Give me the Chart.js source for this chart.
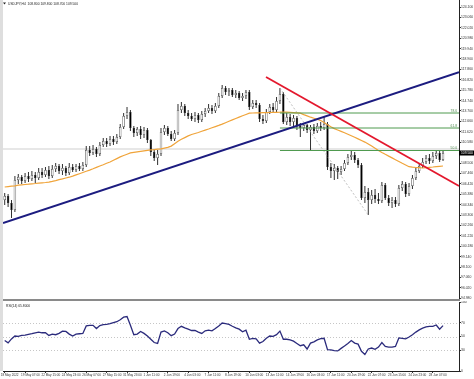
<!DOCTYPE html>
<html>
<head>
<meta charset="utf-8">
<script src="https://cdn.jsdelivr.net/npm/chart.js@4.4.1/dist/chart.umd.min.js"></script>
<style>
  html, body { margin: 0; padding: 0; background: #fff; }
  #wrap { position: relative; width: 474px; height: 379px; overflow: hidden; background: #fff; }
  canvas { position: absolute; left: 0; }
  #main { top: 0; }
  #rsi { top: 301px; }
  #sep { position: absolute; left: 0; top: 299px; width: 460px; height: 2px; background: #8a8a8a; }
  #edge { position: absolute; left: 0; top: 0; width: 3px; height: 371px; background: #dedede; }
</style>
</head>
<body>
<div id="wrap">
  <canvas id="main" width="474" height="299" style="width:474px;height:299px"></canvas>
  <div id="sep"></div>
  <canvas id="rsi" width="474" height="78" style="width:474px;height:78px"></canvas>
  <div id="edge"></div>
</div>
<script>
// chart data (H4 candles)
const symbol = 'USDJPY,H4';

const dateLabels = ['18 May 2022', '19 May 07:00', '22 May 15:00', '24 May 23:00', '26 May 07:00', '27 May 15:00',
  '31 May 23:00', '1 Jun 11:00', '2 Jun 19:00', '4 Jun 03:00', '7 Jun 11:00', '8 Jun 19:00', '10 Jun 03:00',
  '13 Jun 11:00', '14 Jun 19:00', '16 Jun 03:00', '17 Jun 11:00', '20 Jun 19:00', '22 Jun 07:00',
  '23 Jun 15:00', '24 Jun 23:00', '28 Jun 07:00'];
const barsPerLabel = 6;

const openPrices = [
  104.8, 105.2, 104.5, 103.8, 106.8, 107.1, 106.7, 107.2, 106.9, 107.3,
  107.0, 107.6, 107.3, 107.8, 107.2, 107.9, 108.2, 107.7, 108.0, 107.5,
  108.1, 107.8, 108.2, 107.9, 108.3, 109.8, 109.5, 109.9, 109.4, 110.3,
  110.7, 110.4, 110.9, 110.6, 111.1, 112.1, 113.2, 113.6, 112.0, 111.5,
  111.9, 111.3, 111.8, 110.8, 109.6, 109.0, 109.4, 111.6, 112.0, 111.4,
  110.9, 111.5, 113.8, 114.2, 113.5, 113.2, 112.9, 113.3, 112.8, 113.4,
  113.7, 114.0, 113.7, 114.2, 115.2, 116.0, 115.6, 115.8, 115.3, 115.5,
  115.0, 115.2, 115.6, 114.1, 114.5, 114.3, 112.9, 112.7, 113.6, 114.1,
  113.8, 114.7, 115.4, 112.6, 113.1, 112.6, 113.0, 112.2, 112.0, 112.3,
  111.8, 112.1, 111.7, 112.2, 112.0, 112.4, 108.1, 107.7, 108.0, 107.6,
  107.9, 108.5, 109.1, 109.3, 108.8, 108.3, 105.0, 105.6, 104.8, 105.3,
  104.9, 104.7, 106.3, 105.0, 104.5, 104.8, 104.4, 106.0, 106.4, 105.4,
  106.2, 107.0, 107.7, 108.2, 108.6, 109.0, 108.7, 109.2, 109.5, 108.8
];
const highPrices = [
  105.5, 105.4, 104.8, 107.2, 107.4, 107.3, 107.5, 107.6, 107.7, 107.6,
  108.0, 108.0, 108.1, 108.2, 108.3, 108.5, 108.4, 108.4, 108.2, 108.5,
  108.4, 108.4, 108.5, 108.6, 110.2, 110.2, 110.3, 110.1, 110.6, 111.0,
  111.0, 111.2, 111.2, 111.4, 112.4, 113.5, 114.1, 113.8, 112.2, 112.1,
  112.2, 112.1, 112.0, 110.9, 109.9, 109.8, 112.0, 112.3, 112.2, 111.7,
  111.8, 114.4, 114.6, 114.4, 113.8, 113.5, 113.6, 113.5, 113.7, 114.0,
  114.4, 114.3, 114.5, 115.5, 116.3, 116.2, 116.0, 116.0, 115.8, 115.7,
  115.5, 115.8, 115.8, 114.8, 114.8, 114.5, 113.3, 113.9, 114.4, 114.5,
  115.1, 116.0, 115.6, 113.5, 113.4, 113.3, 113.2, 112.5, 112.5, 112.4,
  112.3, 112.4, 112.5, 112.6, 113.1, 112.6, 108.5, 108.4, 108.2, 108.2,
  108.8, 109.4, 109.7, 109.6, 109.0, 108.5, 106.2, 106.0, 105.8, 105.9,
  105.5, 106.6, 106.5, 105.3, 105.1, 105.1, 106.3, 106.7, 106.6, 106.5,
  107.3, 108.1, 108.5, 109.0, 109.3, 109.4, 109.6, 109.8, 109.7, 109.8
];
const lowPrices = [
  104.3, 104.1, 103.0, 103.6, 106.4, 106.4, 106.5, 106.6, 106.7, 106.5,
  106.8, 107.0, 107.1, 106.9, 107.0, 107.6, 107.4, 107.3, 107.2, 107.3,
  107.6, 107.6, 107.7, 107.7, 108.1, 109.2, 109.3, 109.1, 109.2, 110.1,
  110.1, 110.2, 110.3, 110.4, 110.9, 111.9, 112.9, 111.7, 111.1, 111.2,
  110.9, 111.0, 110.5, 109.2, 108.7, 108.3, 109.2, 111.3, 111.2, 110.7,
  110.7, 111.3, 113.5, 113.2, 112.9, 112.7, 112.6, 112.5, 112.6, 113.1,
  113.5, 113.4, 113.5, 114.0, 115.0, 115.3, 115.2, 115.1, 115.0, 114.8,
  114.7, 114.9, 113.8, 113.9, 114.0, 112.6, 112.4, 112.5, 113.4, 113.5,
  113.6, 114.4, 112.4, 112.3, 112.2, 112.1, 111.8, 111.1, 111.7, 111.5,
  109.8, 111.4, 111.5, 111.7, 111.8, 107.8, 107.0, 106.8, 106.9, 107.3,
  107.7, 108.3, 108.8, 108.5, 108.0, 104.8, 104.5, 103.3, 104.4, 104.5,
  104.4, 104.5, 104.8, 104.2, 104.0, 104.1, 104.2, 105.7, 105.1, 105.2,
  105.9, 106.8, 107.5, 108.0, 108.4, 108.4, 108.5, 108.9, 108.6, 108.7
];
const closePrices = [
  105.2, 104.5, 103.8, 106.8, 107.1, 106.7, 107.2, 106.9, 107.3, 107.0,
  107.6, 107.3, 107.8, 107.2, 107.9, 108.2, 107.7, 108.0, 107.5, 108.1,
  107.8, 108.2, 107.9, 108.3, 109.8, 109.5, 109.9, 109.4, 110.3, 110.7,
  110.4, 110.9, 110.6, 111.1, 112.1, 113.2, 113.6, 112.0, 111.5, 111.9,
  111.3, 111.8, 110.8, 109.6, 109.0, 109.4, 111.6, 112.0, 111.4, 110.9,
  111.5, 113.8, 114.2, 113.5, 113.2, 112.9, 113.3, 112.8, 113.4, 113.7,
  114.0, 113.7, 114.2, 115.2, 116.0, 115.6, 115.8, 115.3, 115.5, 115.0,
  115.2, 115.6, 114.1, 114.5, 114.3, 112.9, 112.7, 113.6, 114.1, 113.8,
  114.7, 115.4, 112.6, 113.1, 112.6, 113.0, 112.2, 112.0, 112.3, 111.8,
  112.1, 111.7, 112.2, 112.0, 112.4, 108.1, 107.7, 108.0, 107.6, 107.9,
  108.5, 109.1, 109.3, 108.8, 108.3, 105.0, 105.6, 104.8, 105.3, 104.9,
  104.7, 106.3, 105.0, 104.5, 104.8, 104.4, 106.0, 106.4, 105.4, 106.2,
  107.0, 107.7, 108.2, 108.6, 109.0, 108.7, 109.2, 109.5, 108.8, 109.5
];

// moving average (orange)
const maValues = [
  106.10, 106.14, 106.18, 106.22, 106.28, 106.32, 106.35, 106.38, 106.42, 106.45,
  106.49, 106.52, 106.55, 106.59, 106.66, 106.74, 106.83, 106.91, 107.00, 107.08,
  107.19, 107.31, 107.43, 107.55, 107.67, 107.79, 107.92, 108.06, 108.20, 108.33,
  108.47, 108.60, 108.77, 108.94, 109.11, 109.25, 109.38, 109.51, 109.56, 109.61,
  109.66, 109.71, 109.76, 109.81, 109.84, 109.88, 109.92, 109.99, 110.06, 110.19,
  110.43, 110.67, 110.87, 111.04, 111.21, 111.35, 111.45, 111.55, 111.67, 111.79,
  111.90, 112.02, 112.14, 112.26, 112.39, 112.53, 112.67, 112.81, 112.95, 113.09,
  113.22, 113.35, 113.48, 113.50, 113.51, 113.52, 113.53, 113.54, 113.55, 113.56,
  113.57, 113.58, 113.60, 113.58, 113.56, 113.54, 113.52, 113.48, 113.34, 113.21,
  113.08, 112.98, 112.87, 112.74, 112.54, 112.33, 112.12, 111.94, 111.80, 111.66,
  111.52, 111.38, 111.23, 111.07, 110.91, 110.75, 110.59, 110.40, 110.19, 109.98,
  109.76, 109.56, 109.37, 109.19, 109.01, 108.83, 108.65, 108.47, 108.30, 108.13,
  108.08, 108.05, 108.03, 108.00, 108.03, 108.07, 108.10, 108.14, 108.17, 108.20
];

// RSI(14) for the lower panel
const rsiValues = [
  44.1, 40.8, 46.5, 50.7, 50.2, 51.6, 52.1, 53.1, 54.0, 55.4,
  56.4, 55.4, 55.4, 51.6, 53.5, 52.6, 54.5, 57.8, 57.3, 53.5,
  50.7, 53.5, 54.0, 54.5, 65.3, 66.2, 66.2, 61.5, 65.8, 67.2,
  67.6, 68.6, 70.0, 71.4, 74.2, 78.0, 78.9, 66.2, 52.6, 53.5,
  57.3, 54.5, 50.7, 46.0, 41.3, 39.9, 56.4, 58.2, 55.4, 51.2,
  53.5, 61.5, 64.8, 62.5, 60.6, 58.7, 58.7, 56.4, 54.5, 58.2,
  59.2, 58.2, 61.5, 65.3, 69.5, 68.6, 67.6, 64.8, 62.5, 60.6,
  56.8, 59.2, 46.0, 47.4, 46.5, 40.4, 42.7, 47.4, 50.7, 50.2,
  52.6, 57.8, 46.0, 46.0, 45.1, 43.2, 39.9, 36.6, 38.0, 31.9,
  40.4, 42.2, 45.1, 46.9, 47.4, 30.9, 30.5, 29.5, 29.1, 32.8,
  36.1, 39.9, 44.1, 40.4, 38.9, 28.6, 23.9, 31.9, 33.3, 31.4,
  34.7, 41.3, 35.6, 34.7, 34.7, 35.6, 47.9, 47.4, 46.5, 49.3,
  52.6, 56.4, 59.6, 62.0, 63.9, 64.8, 64.8, 66.7, 60.6, 65.8
];

const priceTicks = [124.10, 123.06, 122.02, 120.98, 119.94, 118.90, 117.86, 116.82, 115.78, 114.74,
  113.70, 112.66, 111.62, 110.58, 109.54, 108.50, 107.46, 106.42, 105.38, 104.34,
  103.30, 102.26, 101.22, 100.18, 99.14, 98.10, 97.06, 96.02, 94.98];
const priceMin = 94.9, priceMax = 124.8;
const rsiTicks = [0, 30, 50, 70, 100];
const rsiLevels = [30, 50, 70];

// drawn objects (bar index / price)
const xMin = -0.5, xMax = 133.7;
const blueTrend = [{ x: -0.5, y: 102.5 }, { x: 133.7, y: 117.59 }];
const redTrend = [{ x: 76.9, y: 117.1 }, { x: 133.7, y: 106.2 }];
const fibStart = 81, fibEnd = 107;
const fibLevels = [113.5, 112.0, 109.75];
const fibNames = ['78.6', '61.8', '50.0'];
const hLine = 109.9;

Chart.defaults.font.family = '"Liberation Sans", Arial, sans-serif';
Chart.defaults.color = '#333';

const last = closePrices.length - 1;
const idx = closePrices.map((c, i) => i);
const dateTicks = dateLabels.map((d, k) => k * barsPerLabel);
const fmt = v => v.toFixed(3);

const mainDecor = {
  id: 'mainDecor',
  afterDraw(chart) {
    const { ctx, chartArea: a, scales: { y } } = chart;
    ctx.save();
    // title
    ctx.fillStyle = '#222';
    ctx.beginPath();
    ctx.moveTo(3, 2.5); ctx.lineTo(6, 2.5); ctx.lineTo(4.5, 4.5); ctx.closePath();
    ctx.fill();
    ctx.font = '3.3px "Liberation Sans", Arial';
    ctx.textBaseline = 'middle';
    ctx.fillText(symbol + '  ' + fmt(openPrices[last]) + ' ' + fmt(highPrices[last]) + ' ' +
      fmt(lowPrices[last]) + ' ' + fmt(closePrices[last]), 8, 3.6);
    // fib level names
    ctx.fillStyle = '#4f8a4f';
    ctx.textAlign = 'right';
    ctx.textBaseline = 'bottom';
    fibLevels.forEach((lv, k) => ctx.fillText(fibNames[k], a.right - 2, y.getPixelForValue(lv) - 0.5));
    // current price box
    const py = y.getPixelForValue(closePrices[last]);
    ctx.fillStyle = '#000';
    ctx.fillRect(a.right, py - 2.5, 474 - a.right, 5);
    ctx.fillStyle = '#fff';
    ctx.textAlign = 'left';
    ctx.textBaseline = 'middle';
    ctx.fillText(fmt(closePrices[last]), a.right + 2, py);
    ctx.restore();
  }
};

const rsiDecor = {
  id: 'rsiDecor',
  beforeDatasetsDraw(chart) {
    const { ctx, chartArea: a, scales: { y } } = chart;
    ctx.save();
    ctx.strokeStyle = '#c6c6c6';
    ctx.lineWidth = 1;
    ctx.setLineDash([1, 2]);
    rsiLevels.forEach(v => {
      const py = Math.round(y.getPixelForValue(v)) + 0.5;
      ctx.beginPath(); ctx.moveTo(a.left, py); ctx.lineTo(a.right, py); ctx.stroke();
    });
    ctx.restore();
  },
  afterDraw(chart) {
    const { ctx } = chart;
    ctx.save();
    ctx.fillStyle = '#222';
    ctx.font = '3.3px "Liberation Sans", Arial';
    ctx.textBaseline = 'middle';
    ctx.fillText('RSI(14) ' + rsiValues[last].toFixed(4), 6, 5);
    ctx.restore();
  }
};

const xAxis = show => ({
  type: 'linear', min: xMin, max: xMax, offset: false, display: show,
  afterBuildTicks: s => { s.ticks = dateTicks.map(v => ({ value: v })); },
  afterFit: s => { s.height = show ? 8 : 0; s.paddingLeft = 0; s.paddingRight = 0; },
  grid: { drawOnChartArea: false, tickLength: 2, color: '#333' },
  border: { color: '#222', width: 1 },
  ticks: {
    autoSkip: false, maxRotation: 0, minRotation: 0, align: 'start', padding: 0, labelOffset: -4,
    font: { size: 3.1 }, color: '#333',
    callback: v => dateLabels[v / barsPerLabel] || ''
  }
});

const yAxis = (min, max, tickList, label) => ({
  position: 'right', min, max, stacked: false,
  afterBuildTicks: s => { s.ticks = tickList.map(v => ({ value: v })); },
  afterFit: s => { s.width = 15; s.paddingTop = 0; s.paddingBottom = 0; },
  grid: { drawOnChartArea: false, tickLength: 2, color: '#333' },
  border: { color: '#222', width: 1 },
  ticks: { autoSkip: false, padding: 0, font: { size: 3.4 }, color: '#333', callback: label }
});

const flat = (v, from, to) => [{ x: from, y: v }, { x: to, y: v }];

new Chart(document.getElementById('main'), {
  type: 'bar',
  data: {
    datasets: [
      { type: 'line', data: redTrend, borderColor: '#e3182d', borderWidth: 1.8, pointRadius: 0, order: 1 },
      { type: 'line', data: blueTrend, borderColor: '#1c1c80', borderWidth: 2, pointRadius: 0, order: 2 },
      ...fibLevels.map(lv => ({
        type: 'line', data: flat(lv, fibStart, xMax), borderColor: '#4f9a4f', borderWidth: 1, pointRadius: 0, order: 3
      })),
      {
        type: 'line', data: idx.map(i => ({ x: i, y: maValues[i] })),
        borderColor: '#f0a43a', borderWidth: 1.2, pointRadius: 0, order: 4
      },
      {
        type: 'line', data: [{ x: fibStart, y: highPrices[fibStart] }, { x: fibEnd, y: lowPrices[fibEnd] }],
        borderColor: '#b0b0b0', borderWidth: 0.8, borderDash: [2, 2], pointRadius: 0, order: 5
      },
      {
        type: 'bar', data: idx.map(i => ({ x: i, y: [openPrices[i], closePrices[i]] })),
        backgroundColor: idx.map(i => closePrices[i] >= openPrices[i] ? '#ffffff' : '#000000'),
        borderColor: '#222', borderWidth: 0.6, borderSkipped: false, minBarLength: 1,
        grouped: false, categoryPercentage: 1, barPercentage: 0.72, order: 7
      },
      {
        type: 'bar', data: idx.map(i => ({ x: i, y: [lowPrices[i], highPrices[i]] })),
        backgroundColor: '#333', borderWidth: 0, grouped: false, categoryPercentage: 1, barPercentage: 0.3, order: 8
      },
      { type: 'line', data: flat(hLine, xMin, xMax), borderColor: '#cfcfcf', borderWidth: 1, pointRadius: 0, order: 9 }
    ]
  },
  options: {
    responsive: false, animation: false, devicePixelRatio: 1, events: [],
    layout: { padding: { left: 3, top: 0, right: 0, bottom: 0 } },
    plugins: { legend: { display: false }, tooltip: { enabled: false } },
    scales: {
      x: xAxis(false),
      y: yAxis(priceMin, priceMax, priceTicks, v => v.toFixed(3))
    }
  },
  plugins: [mainDecor]
});

new Chart(document.getElementById('rsi'), {
  type: 'line',
  data: {
    datasets: [{
      data: idx.map(i => ({ x: i, y: rsiValues[i] })),
      borderColor: '#2b2b7c', borderWidth: 1.3, pointRadius: 0
    }]
  },
  options: {
    responsive: false, animation: false, devicePixelRatio: 1, events: [],
    layout: { padding: { left: 3, top: 1, right: 0, bottom: 0 } },
    plugins: { legend: { display: false }, tooltip: { enabled: false } },
    scales: {
      x: xAxis(true),
      y: yAxis(0, 100, rsiTicks, v => String(v))
    }
  },
  plugins: [rsiDecor]
});
</script>
</body>
</html>
